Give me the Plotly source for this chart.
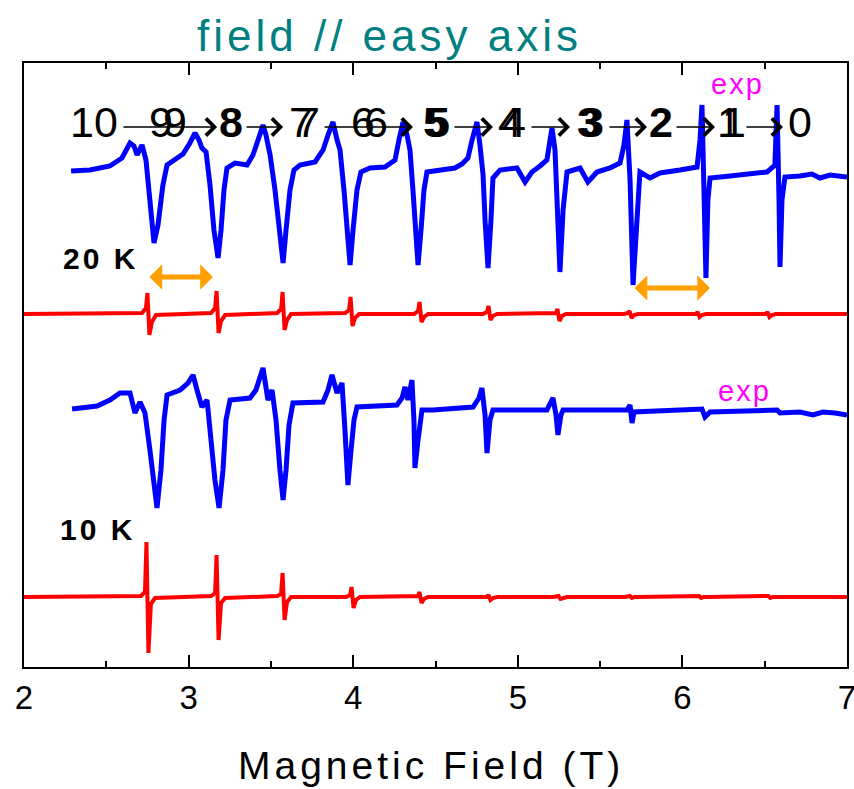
import plotly.graph_objects as go

# ---------------- data (field in T, signal in arbitrary units) ----------------
# 20 K experimental trace (blue)
field_20K_exp = [2.286, 2.401, 2.522, 2.595, 2.644, 2.668, 2.687, 2.717, 2.741, 2.765,
                 2.790, 2.814, 2.844, 2.869, 2.917, 2.966, 3.008, 3.039, 3.063, 3.081,
                 3.106, 3.130, 3.154, 3.179, 3.197, 3.215, 3.233, 3.282, 3.355, 3.391,
                 3.422, 3.452, 3.470, 3.495, 3.525, 3.549, 3.574, 3.592, 3.616, 3.640,
                 3.677, 3.768, 3.817, 3.847, 3.877, 3.902, 3.920, 3.944, 3.962, 3.981,
                 3.999, 4.023, 4.047, 4.102, 4.193, 4.254, 4.278, 4.303, 4.327, 4.345,
                 4.363, 4.382, 4.394, 4.412, 4.430, 4.448, 4.527, 4.618, 4.661, 4.697,
                 4.722, 4.752, 4.770, 4.789, 4.801, 4.819, 4.837, 4.849, 4.892, 4.995,
                 5.044, 5.086, 5.135, 5.177, 5.196, 5.208, 5.226, 5.238, 5.256, 5.275,
                 5.299, 5.378, 5.426, 5.481, 5.560, 5.621, 5.645, 5.663, 5.682, 5.700,
                 5.718, 5.742, 5.803, 5.864, 5.985, 6.089, 6.107, 6.119, 6.131, 6.143,
                 6.155, 6.168, 6.289, 6.514, 6.562, 6.575, 6.587, 6.593, 6.605, 6.623,
                 6.714, 6.787, 6.836, 6.897, 7.000]
signal_20K_exp = [497, 498, 502, 510, 525, 522, 513, 523, 508, 468,
                  425, 443, 483, 503, 508, 514, 525, 535, 528, 520,
                  516, 483, 438, 410, 438, 478, 500, 505, 503, 513,
                  528, 543, 533, 513, 478, 438, 405, 438, 478, 498,
                  503, 506, 518, 533, 546, 528, 518, 478, 438, 403,
                  438, 478, 496, 500, 501, 508, 528, 546, 533, 518,
                  478, 438, 403, 438, 478, 496, 498, 500, 504, 510,
                  528, 546, 523, 493, 448, 400, 448, 490, 498, 500,
                  486, 496, 502, 508, 528, 540, 518, 468, 396, 458,
                  496, 500, 486, 496, 500, 505, 523, 548, 488, 383,
                  438, 496, 490, 495, 498, 501, 528, 563, 478, 390,
                  468, 490, 492, 496, 503, 563, 468, 401, 468, 491,
                  492, 494, 490, 493, 491]

# 20 K simulation (red)
field_20K_sim = [2.000,
                 2.717, 2.741, 2.750, 2.762, 2.777, 2.802,
                 3.137, 3.161, 3.170, 3.182, 3.197, 3.222,
                 3.538, 3.562, 3.571, 3.583, 3.598, 3.623,
                 3.951, 3.975, 3.984, 3.996, 4.011, 4.036,
                 4.370, 4.394, 4.403, 4.415, 4.430, 4.455,
                 4.789, 4.813, 4.822, 4.834, 4.849, 4.874,
                 5.208, 5.232, 5.241, 5.253, 5.268, 5.293,
                 5.646, 5.670, 5.679, 5.691, 5.706, 5.731,
                 6.059, 6.083, 6.092, 6.104, 6.119, 6.144,
                 6.484, 6.508, 6.517, 6.529, 6.544, 6.569,
                 7.000]
signal_20K_sim = [354,
                  355, 360, 375, 333, 346, 353,
                  355, 360, 377, 335, 347, 353,
                  355, 359, 376, 338, 348, 354,
                  355, 358, 371, 342, 350, 354,
                  354, 357, 366, 346, 351, 354,
                  354, 356, 362, 348, 352, 354,
                  354, 355, 359, 347, 352, 354,
                  354, 355, 357, 350, 353, 354,
                  354, 354, 356, 351, 353, 354,
                  354, 354, 356, 351, 353, 354,
                  354]

# 10 K experimental trace (blue)
field_10K_exp = [2.292, 2.444, 2.522, 2.583, 2.644, 2.674, 2.705, 2.735, 2.765, 2.808,
                 2.832, 2.851, 2.869, 2.948, 2.996, 3.027, 3.051, 3.081, 3.112, 3.136,
                 3.160, 3.185, 3.209, 3.227, 3.252, 3.373, 3.409, 3.452, 3.470, 3.482,
                 3.507, 3.531, 3.555, 3.574, 3.592, 3.610, 3.634, 3.817, 3.847, 3.871,
                 3.902, 3.932, 3.950, 3.968, 3.987, 4.005, 4.023, 4.266, 4.297, 4.315,
                 4.333, 4.357, 4.369, 4.375, 4.394, 4.418, 4.485, 4.728, 4.764, 4.782,
                 4.801, 4.813, 4.831, 4.849, 5.177, 5.214, 5.232, 5.244, 5.262, 5.275,
                 5.663, 5.682, 5.694, 5.706, 6.119, 6.137, 6.168, 6.575, 6.593, 6.714,
                 6.793, 6.854, 6.927, 7.000]
signal_10K_exp = [259, 262, 268, 275, 275, 255, 266, 255, 218, 160,
                  198, 248, 273, 278, 285, 293, 278, 261, 268, 228,
                  188, 160, 198, 248, 268, 270, 278, 300, 283, 268,
                  278, 248, 198, 168, 198, 243, 265, 266, 278, 293,
                  275, 285, 238, 183, 218, 248, 261, 263, 270, 281,
                  268, 288, 248, 200, 228, 258, 258, 261, 270, 280,
                  253, 215, 248, 258, 258, 270, 253, 233, 253, 258,
                  258, 263, 245, 256, 259, 251, 256, 258, 255, 256,
                  253, 256, 255, 253]

# 10 K simulation (red)
field_10K_sim = [2.000,
                 2.711, 2.735, 2.744, 2.756, 2.771, 2.796,
                 3.137, 3.161, 3.170, 3.182, 3.197, 3.222,
                 3.538, 3.562, 3.571, 3.583, 3.598, 3.623,
                 3.957, 3.981, 3.990, 4.002, 4.017, 4.042,
                 4.370, 4.394, 4.403, 4.415, 4.430, 4.455,
                 4.789, 4.813, 4.822, 4.834, 4.849, 4.874,
                 5.214, 5.238, 5.247, 5.259, 5.274, 5.299,
                 5.649, 5.673, 5.682, 5.694, 5.709, 5.734,
                 6.069, 6.093, 6.102, 6.114, 6.129, 6.154,
                 6.489, 6.513, 6.522, 6.534, 6.549, 6.574,
                 7.000]
signal_10K_sim = [71,
                  72, 76, 126, 15, 64, 70,
                  72, 75, 113, 28, 65, 70,
                  72, 74, 95, 48, 66, 71,
                  71, 73, 81, 60, 68, 71,
                  71, 72, 76, 65, 69, 71,
                  71, 71, 73, 68, 70, 71,
                  71, 71, 72, 69, 70, 71,
                  71, 71, 72, 70, 71, 71,
                  71, 71, 72, 70, 71, 71,
                  71, 71, 72, 70, 71, 71,
                  71]

tick_values = [2, 3, 4, 5, 6, 7]
tick_labels = ["2", "3", "4", "5", "6", "7"]

# spin-state labels: text, field position, bold, ghost offset (px, 0 = none)
state_labels = [("10", 2.425, False, 0), ("9", 2.832, False, 14),
                ("8", 3.258, True, 0), ("7", 3.680, False, 7),
                ("6", 4.060, False, 13), ("5", 4.497, True, 3),
                ("4", 4.955, False, 4), ("3", 5.430, True, 3),
                ("2", 5.870, True, 0), ("1", 6.282, False, 5),
                ("0", 6.714, False, 0)]
state_arrows = [(2.595, 3.173), (3.343, 3.574), (3.817, 4.363), (4.606, 4.849),
                (5.074, 5.317), (5.548, 5.785), (5.955, 6.198), (6.380, 6.611)]

# ---------------- figure ----------------
fig = go.Figure()
fig.add_trace(go.Scatter(x=field_20K_exp, y=signal_20K_exp, mode="lines",
                         line=dict(color="#0000FF", width=5), showlegend=False))
fig.add_trace(go.Scatter(x=field_20K_sim, y=signal_20K_sim, mode="lines",
                         line=dict(color="#FF0000", width=4), showlegend=False))
fig.add_trace(go.Scatter(x=field_10K_exp, y=signal_10K_exp, mode="lines",
                         line=dict(color="#0000FF", width=5), showlegend=False))
fig.add_trace(go.Scatter(x=field_10K_sim, y=signal_10K_sim, mode="lines",
                         line=dict(color="#FF0000", width=4), showlegend=False))

ann = []
DIGIT_FONT = "Liberation Sans, Arial, sans-serif"
for txt, xpos, bold, ghost in state_labels:
    f = dict(family=DIGIT_FONT, size=43, color="black")
    if ghost:
        f["shadow"] = f"{ghost}px 0px 0px black"
    ann.append(dict(x=xpos, y=546, xref="x", yref="y", showarrow=False,
                    text=f"<b>{txt}</b>" if bold else txt, font=f,
                    xanchor="center", yanchor="middle"))
for x0, x1 in state_arrows:
    ann.append(dict(x=x1, y=541, ax=x0, ay=541, xref="x", yref="y",
                    axref="x", ayref="y", text="", showarrow=True,
                    arrowhead=4, arrowsize=2.2, arrowwidth=1.5,
                    arrowcolor="black", standoff=0, startstandoff=0))
# orange double arrows
for x0, x1, yv in [(2.753, 3.148, 391), (5.700, 6.168, 380)]:
    ann.append(dict(x=x1, y=yv, ax=x0, ay=yv, xref="x", yref="y",
                    axref="x", ayref="y", text="", showarrow=True,
                    arrowhead=1, startarrowhead=1, arrowside="end+start",
                    arrowsize=0.85, startarrowsize=0.85, arrowwidth=5,
                    arrowcolor="#FFA000", standoff=0, startstandoff=0))
# temperature labels
ann.append(dict(x=2.462, y=410, xref="x", yref="y", showarrow=False,
                text="<span style='letter-spacing:3px'><b>20 K</b></span>",
                font=dict(family="Liberation Sans", size=30, color="black")))
ann.append(dict(x=2.447, y=139, xref="x", yref="y", showarrow=False,
                text="<span style='letter-spacing:3px'><b>10 K</b></span>",
                font=dict(family="Liberation Sans", size=30, color="black")))
# exp labels
ann.append(dict(x=6.332, y=584, xref="x", yref="y", showarrow=False,
                text="<span style='letter-spacing:2px'>exp</span>",
                font=dict(family="Liberation Sans", size=29, color="#FF00FF")))
ann.append(dict(x=6.380, y=277, xref="x", yref="y", showarrow=False,
                text="<span style='letter-spacing:2px'>exp</span>",
                font=dict(family="Liberation Sans", size=29, color="#FF00FF")))
# title
ann.append(dict(x=0.4447, y=1.045, xref="paper", yref="paper", showarrow=False,
                text="<span style='letter-spacing:4px'>field // easy axis</span>",
                font=dict(family="Liberation Sans", size=44, color="#008080"),
                xanchor="center", yanchor="middle"))
# x axis label
ann.append(dict(x=0.4945, y=-0.163, xref="paper", yref="paper", showarrow=False,
                text="<span style='letter-spacing:4px'>Magnetic Field (T)</span>",
                font=dict(family="Liberation Sans", size=39, color="black"),
                xanchor="center", yanchor="middle"))

fig.update_layout(
    width=854, height=789,
    margin=dict(l=24, r=7, t=63, b=122, pad=0, autoexpand=False),
    paper_bgcolor="white", plot_bgcolor="white",
    annotations=ann,
    xaxis=dict(range=[2, 7], tickvals=tick_values, ticktext=tick_labels,
               ticks="inside", ticklen=12, tickwidth=1.5, tickcolor="black",
               showline=True, linecolor="black", linewidth=2, mirror="ticks",
               showgrid=False, zeroline=False, ticklabeloverflow="allow",
               automargin=False,
               minor=dict(dtick=0.5, ticks="inside", ticklen=6, tickwidth=1.5,
                          tickcolor="black", showgrid=False),
               tickfont=dict(family="Liberation Sans", size=33, color="black")),
    yaxis=dict(range=[1, 605], showticklabels=False, ticks="",
               showline=True, linecolor="black", linewidth=2, mirror=True,
               showgrid=False, zeroline=False, automargin=False),
)

fig.write_html("out.html")
